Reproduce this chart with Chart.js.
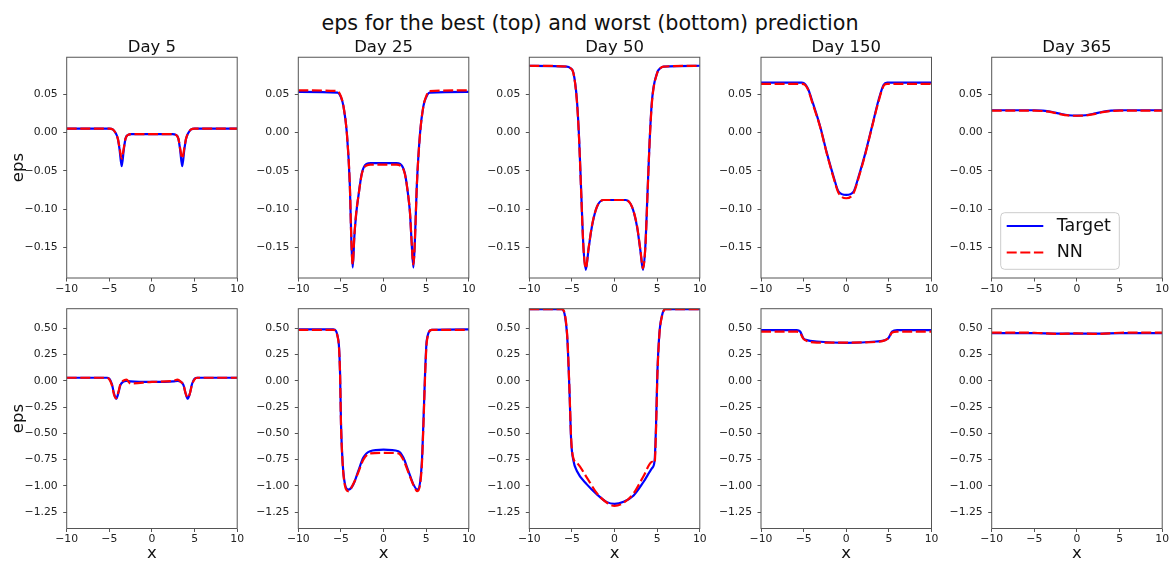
<!DOCTYPE html>
<html>
<head>
<meta charset="utf-8">
<script src="https://cdn.jsdelivr.net/npm/chart.js@4.4.0/dist/chart.umd.min.js"></script>
<style>
  html, body { margin: 0; padding: 0; background: #fff; }
  body { width: 1170px; height: 562px; position: relative; overflow: hidden; font-family: 'DejaVu Sans', sans-serif; }
  #suptitle { position: absolute; left: 0; width: 1180px; top: 12.5px; text-align: center; font-size: 20.7px; line-height: 1; color: #111; white-space: nowrap; }
  canvas { position: absolute; }
</style>
</head>
<body>
<div id="suptitle">eps for the best (top) and worst (bottom) prediction</div>
<script>
// ===== Labels & ticks =====
const days = ['Day 5', 'Day 25', 'Day 50', 'Day 150', 'Day 365'];
const seriesNames = ['Target', 'NN'];
const xTicks = [-10, -5, 0, 5, 10];
const bestTicks = [-0.15, -0.10, -0.05, 0.00, 0.05];
const worstTicks = [-1.25, -1.00, -0.75, -0.50, -0.25, 0.00, 0.25, 0.50];

// ===== Best prediction (top row) =====
const day5BestX      = [-10, -5, -4.6, -4.3, -4.0, -3.8, -3.55, -3.3, -3.1, -2.8, -2.4, 2.4, 2.8, 3.1, 3.3, 3.55, 3.8, 4.0, 4.3, 4.6, 5, 10];
const day5BestTarget = [0.005, 0.005, 0.004, 0.0, -0.008, -0.022, -0.044, -0.022, -0.008, -0.003, -0.002, -0.002, -0.003, -0.008, -0.022, -0.044, -0.022, -0.008, 0.0, 0.004, 0.005, 0.005];
const day5BestNN     = [0.005, 0.005, 0.004, 0.0, -0.008, -0.020, -0.034, -0.020, -0.008, -0.003, -0.002, -0.002, -0.003, -0.008, -0.020, -0.034, -0.020, -0.008, 0.0, 0.004, 0.005, 0.005];

const day25BestX      = [-10, -5.4, -5.0, -4.7, -4.3, -3.95, -3.78, -3.62, -3.42, -3.2, -2.95, -2.55, -2.0, -1.5, 1.5, 1.95, 2.5, 2.9, 3.1, 3.28, 3.5, 3.68, 3.9, 4.28, 4.67, 5.0, 5.4, 10];
const day25BestTarget = [0.053, 0.052, 0.046, 0.034, -0.001, -0.07, -0.14, -0.176, -0.135, -0.105, -0.083, -0.053, -0.041, -0.040, -0.040, -0.041, -0.053, -0.083, -0.105, -0.14, -0.176, -0.14, -0.07, -0.001, 0.034, 0.046, 0.052, 0.053];
const day25BestNN     = [0.055, 0.054, 0.047, 0.034, -0.002, -0.07, -0.14, -0.172, -0.133, -0.104, -0.083, -0.054, -0.043, -0.042, -0.042, -0.043, -0.054, -0.083, -0.104, -0.14, -0.172, -0.14, -0.07, -0.002, 0.034, 0.047, 0.054, 0.055];

const day50BestX      = [-10, -5.6, -5.2, -4.82, -4.42, -4.15, -3.92, -3.65, -3.37, -3.06, -2.66, -2.07, -1.3, 1.3, 2.05, 2.64, 3.02, 3.34, 3.61, 3.88, 4.12, 4.4, 4.99, 5.4, 5.76, 10];
const day50BestTarget = [0.087, 0.086, 0.084, 0.0775, 0.043, -0.0095, -0.075, -0.149, -0.179, -0.153, -0.123, -0.097, -0.088, -0.088, -0.097, -0.123, -0.153, -0.179, -0.149, -0.075, -0.0095, 0.043, 0.0775, 0.084, 0.086, 0.087];
const day50BestNN     = [0.087, 0.086, 0.084, 0.077, 0.041, -0.011, -0.077, -0.150, -0.177, -0.152, -0.122, -0.097, -0.088, -0.088, -0.097, -0.122, -0.152, -0.177, -0.150, -0.077, -0.011, 0.041, 0.077, 0.084, 0.086, 0.087];

const day150BestX      = [-10, -5.2, -4.82, -4.44, -4.04, -3.06, -2.27, -1.49, -0.9, 0, 0.86, 1.45, 2.24, 3.02, 3.8, 4.39, 4.8, 10];
const day150BestTarget = [0.065, 0.065, 0.063, 0.0557, 0.0427, 0.0078, -0.0269, -0.0574, -0.077, -0.0813, -0.077, -0.0574, -0.0269, 0.0078, 0.0427, 0.0623, 0.065, 0.065];
const day150BestNN     = [0.0635, 0.0635, 0.062, 0.055, 0.041, 0.007, -0.028, -0.059, -0.079, -0.0857, -0.079, -0.059, -0.028, 0.007, 0.041, 0.061, 0.0635, 0.0635];

const day365BestX      = [-10, -5, -4, -3, -2, -1, 0, 1, 2, 3, 4, 5, 10];
const day365BestTarget = [0.029, 0.029, 0.0285, 0.027, 0.0245, 0.0225, 0.022, 0.0225, 0.0245, 0.027, 0.0285, 0.029, 0.029];
const day365BestNN     = [0.0285, 0.0285, 0.028, 0.0265, 0.024, 0.0222, 0.0218, 0.0222, 0.024, 0.0265, 0.028, 0.0285, 0.0285];

// ===== Worst prediction (bottom row) =====
const day5WorstX      = [-10, -5.3, -5.0, -4.7, -4.45, -4.2, -3.95, -3.7, -3.4, -3.0, -2.5, 0, 2.5, 3.0, 3.4, 3.7, 3.95, 4.2, 4.45, 4.7, 5.0, 5.3, 10];
const day5WorstTarget = [0.03, 0.03, 0.02, -0.03, -0.12, -0.17, -0.12, -0.04, -0.01, 0.0, -0.005, -0.01, -0.005, 0.0, -0.01, -0.04, -0.12, -0.17, -0.12, -0.03, 0.02, 0.03, 0.03];
const day5WorstNN     = [0.03, 0.03, 0.015, -0.04, -0.13, -0.165, -0.11, -0.03, 0.0, 0.012, -0.025, -0.01, 0.0, 0.012, -0.01, -0.04, -0.12, -0.16, -0.12, -0.035, 0.015, 0.03, 0.03];

const day25WorstX      = [-10, -5.89, -5.3, -5.1, -4.99, -4.79, -4.52, -4.13, -3.54, -2.96, -2.37, -1.58, 0, 1.74, 2.32, 2.91, 3.5, 3.97, 4.48, 4.67, 4.87, 5.07, 5.66, 10];
const day25WorstTarget = [0.49, 0.49, 0.388, 0.069, -0.41, -0.79, -0.985, -1.035, -0.985, -0.857, -0.73, -0.67, -0.655, -0.67, -0.73, -0.857, -0.985, -1.035, -0.79, -0.41, 0.069, 0.388, 0.485, 0.49];
const day25WorstNN     = [0.485, 0.485, 0.38, 0.06, -0.42, -0.80, -1.0, -1.05, -0.98, -0.87, -0.75, -0.69, -0.685, -0.69, -0.75, -0.87, -0.99, -1.05, -0.82, -0.44, 0.04, 0.37, 0.485, 0.485];

const day50WorstX      = [-10, -6.19, -5.8, -5.53, -5.29, -5.09, -4.82, -4.42, -3.25, -2.07, -0.89, 0, 1.06, 2.24, 3.41, 4.4, 4.7, 4.87, 5.02, 5.26, 5.58, 5.96, 10];
const day50WorstTarget = [0.683, 0.683, 0.61, 0.388, -0.091, -0.57, -0.76, -0.857, -0.985, -1.08, -1.154, -1.17, -1.15, -1.09, -0.96, -0.83, -0.76, -0.41, 0.069, 0.452, 0.627, 0.683, 0.683];
const day50WorstNN     = [0.683, 0.683, 0.62, 0.40, -0.08, -0.55, -0.74, -0.78, -0.92, -1.07, -1.16, -1.19, -1.16, -1.07, -0.905, -0.77, -0.78, -0.45, 0.04, 0.44, 0.62, 0.683, 0.683];

const day150WorstX      = [-10, -5.8, -5.41, -5.02, -4.62, -3.45, 0, 3.45, 4.62, 4.98, 5.38, 5.96, 10];
const day150WorstTarget = [0.484, 0.484, 0.47, 0.404, 0.388, 0.375, 0.362, 0.375, 0.39, 0.41, 0.47, 0.484, 0.484];
const day150WorstNN     = [0.468, 0.468, 0.455, 0.40, 0.38, 0.365, 0.365, 0.37, 0.39, 0.41, 0.46, 0.468, 0.468];

const day365WorstX      = [-10, -5, -2.5, 0, 2.5, 5, 10];
const day365WorstTarget = [0.455, 0.455, 0.45, 0.45, 0.45, 0.455, 0.455];
const day365WorstNN     = [0.46, 0.458, 0.447, 0.452, 0.447, 0.458, 0.46];

const bestCurves = [
    [day5BestX, day5BestTarget, day5BestNN],
    [day25BestX, day25BestTarget, day25BestNN],
    [day50BestX, day50BestTarget, day50BestNN],
    [day150BestX, day150BestTarget, day150BestNN],
    [day365BestX, day365BestTarget, day365BestNN]
];
const worstCurves = [
    [day5WorstX, day5WorstTarget, day5WorstNN],
    [day25WorstX, day25WorstTarget, day25WorstNN],
    [day50WorstX, day50WorstTarget, day50WorstNN],
    [day150WorstX, day150WorstTarget, day150WorstNN],
    [day365WorstX, day365WorstTarget, day365WorstNN]
];

// ===== Layout =====
const plotLeft = [66.7, 298.3, 529.3, 761, 991.7];
const plotWidth = 170.5;
const rows = [
    { curves: bestCurves, ticks: bestTicks, min: -0.1897, max: 0.0981, canvasTop: 30, canvasBottom: 300, plotTop: 57.3, plotBottom: 278 },
    { curves: worstCurves, ticks: worstTicks, min: -1.405, max: 0.687, canvasTop: 290, canvasBottom: 562, plotTop: 308.7, plotBottom: 528.5 }
];

Chart.defaults.font.family = "'DejaVu Sans', sans-serif";
const fmt = (v, d) => v.toFixed(d).replace('-', '\u2212');

// axes frame (all four spines)
const framePlugin = {
    id: 'frame',
    afterDatasetsDraw(chart) {
        const { ctx, chartArea: a } = chart;
        ctx.save();
        ctx.strokeStyle = '#555';
        ctx.lineWidth = 1;
        ctx.strokeRect(a.left, a.top, a.right - a.left, a.bottom - a.top);
        ctx.restore();
    }
};

// legend drawn inside the axes, lower left
const innerLegend = {
    id: 'innerLegend',
    afterDraw(chart) {
        const { ctx, chartArea: a } = chart;
        const boxW = 118.6, boxH = 56.6;
        const boxX = a.left + 9, boxY = a.bottom - 8.7 - boxH;
        ctx.save();
        ctx.beginPath();
        ctx.roundRect(boxX, boxY, boxW, boxH, 4);
        ctx.fillStyle = 'rgba(255,255,255,0.8)';
        ctx.fill();
        ctx.strokeStyle = '#cccccc';
        ctx.lineWidth = 1;
        ctx.stroke();
        ctx.font = "17.5px 'DejaVu Sans'";
        ctx.textBaseline = 'middle';
        chart.data.datasets.forEach((ds, i) => {
            const y = boxY + 13.3 + i * 26.5;
            ctx.beginPath();
            ctx.setLineDash(ds.borderDash || []);
            ctx.strokeStyle = ds.borderColor;
            ctx.lineWidth = ds.borderWidth;
            ctx.moveTo(boxX + 6, y);
            ctx.lineTo(boxX + 42.6, y);
            ctx.stroke();
            ctx.setLineDash([]);
            ctx.fillStyle = '#111';
            ctx.fillText(ds.label, boxX + 56, y);
        });
        ctx.restore();
    }
};

function makeChart(r, c) {
    const row = rows[r];
    const [xs, target, nn] = row.curves[c];
    const margin = c === 0 ? plotLeft[0] : 56;
    const left = Math.round(plotLeft[c] - margin);
    const width = Math.round(plotWidth + margin + 12);
    const canvas = document.createElement('canvas');
    canvas.width = width;
    canvas.height = row.canvasBottom - row.canvasTop;
    canvas.style.left = left + 'px';
    canvas.style.top = row.canvasTop + 'px';
    document.body.appendChild(canvas);

    const yAxisW = plotLeft[c] - left;
    const xAxisH = row.canvasBottom - row.plotBottom;
    const padRight = left + width - (plotLeft[c] + plotWidth);

    const plugins = [framePlugin];
    if (r === 0 && c === 4) plugins.push(innerLegend);

    new Chart(canvas, {
        type: 'line',
        data: {
            datasets: [
                { label: seriesNames[0], data: xs.map((x, i) => ({ x, y: target[i] })), borderColor: '#0000ff', borderWidth: 2.2, pointRadius: 0, cubicInterpolationMode: 'monotone', order: 2 },
                { label: seriesNames[1], data: xs.map((x, i) => ({ x, y: nn[i] })), borderColor: '#ff0000', borderWidth: 2.2, borderDash: [10, 3.6], pointRadius: 0, cubicInterpolationMode: 'monotone', order: 1 }
            ]
        },
        options: {
            responsive: false,
            animation: false,
            devicePixelRatio: 1,
            layout: { padding: { top: r === 0 ? 0 : row.plotTop - row.canvasTop, right: padRight, left: 0, bottom: 0 } },
            plugins: {
                legend: { display: false },
                tooltip: { enabled: false },
                // fullSize off: the title spans the plot area only, so it is centred over it
                title: { display: r === 0, fullSize: false, text: days[c], color: '#111', font: { size: 16.5, weight: 'normal', lineHeight: 1.1 }, padding: { top: 8.9, bottom: 0.2 } }
            },
            scales: {
                x: {
                    type: 'linear', min: -10, max: 10,
                    afterBuildTicks: s => { s.ticks = xTicks.map(v => ({ value: v })); },
                    afterFit: s => { s.height = xAxisH; },
                    ticks: { callback: v => fmt(v, 0), color: '#222', font: { size: 10.8 }, padding: 1, maxRotation: 0, autoSkip: false },
                    grid: { drawOnChartArea: false, drawTicks: true, tickLength: 3.5, color: '#555' },
                    border: { display: false },
                    title: { display: r === 1, text: 'x', color: '#111', font: { size: 16.5, lineHeight: 1 }, padding: { top: 0, bottom: 0 } }
                },
                y: {
                    type: 'linear', min: row.min, max: row.max,
                    afterBuildTicks: s => { s.ticks = row.ticks.map(v => ({ value: v })); },
                    afterFit: s => { s.width = yAxisW; },
                    ticks: { callback: v => fmt(v, 2), color: '#222', font: { size: 10.8 }, padding: 5.5, autoSkip: false },
                    grid: { drawOnChartArea: false, drawTicks: true, tickLength: 3.5, color: '#555' },
                    border: { display: false },
                    title: { display: c === 0, text: 'eps', color: '#111', font: { size: 16.5, lineHeight: 1.2 }, padding: { top: 8.5, bottom: 0 } }
                }
            }
        },
        plugins: plugins
    });
}

for (let r = 0; r < 2; r++) {
    for (let c = 0; c < 5; c++) makeChart(r, c);
}
</script>
</body>
</html>
